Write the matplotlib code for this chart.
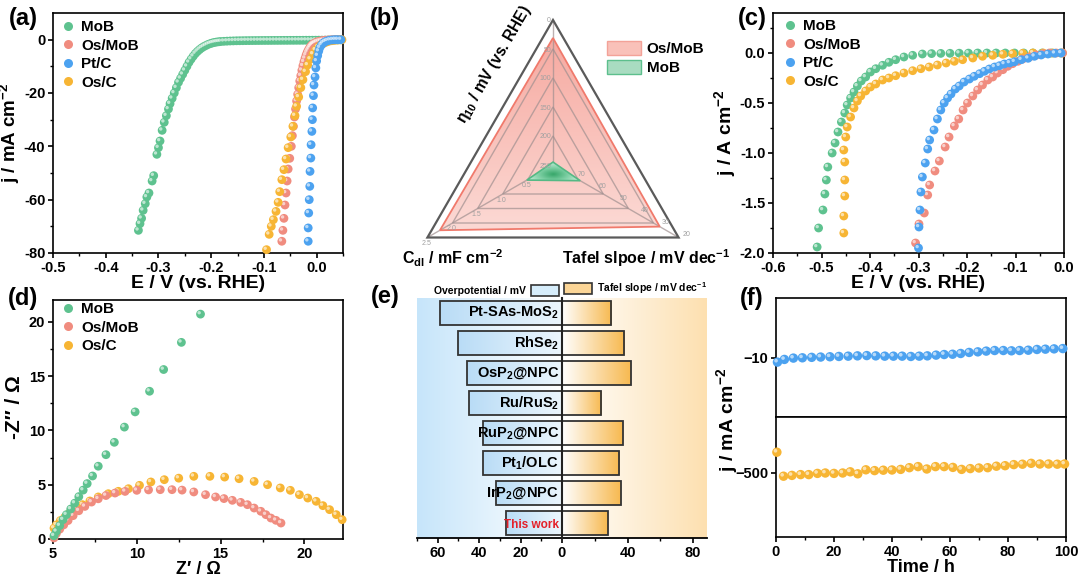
import numpy as np
import matplotlib
matplotlib.use('Agg')
import matplotlib.pyplot as plt
import matplotlib.transforms as mtransforms
from matplotlib.colors import LinearSegmentedColormap
from matplotlib.patches import Polygon, Patch
from matplotlib.lines import Line2D
from matplotlib.ticker import MultipleLocator, FixedLocator

plt.rcParams.update({
    'font.family': ['Liberation Sans', 'DejaVu Sans'],
    'font.weight': 'bold',
    'axes.labelweight': 'bold',
    'mathtext.fontset': 'custom',
    'mathtext.rm': 'Liberation Sans:bold',
    'mathtext.it': 'Liberation Sans:bold:italic',
    'mathtext.bf': 'Liberation Sans:bold',
    'axes.linewidth': 1.2,
    'xtick.major.width': 1.2, 'ytick.major.width': 1.2,
    'xtick.minor.width': 1.0, 'ytick.minor.width': 1.0,
    'xtick.major.size': 3.5, 'ytick.major.size': 3.5,
    'xtick.minor.size': 2.0, 'ytick.minor.size': 2.0,
    'xtick.direction': 'out', 'ytick.direction': 'out',
    'xtick.labelsize': 10.5, 'ytick.labelsize': 10.5,
    'axes.labelsize': 12,
    'xtick.major.pad': 2, 'ytick.major.pad': 2,
})

C_MOB = '#5ec28f'
C_OSMOB = '#f08c7f'
C_PTC = '#4ca2f0'
C_OSC = '#f7b534'

# ---------------- data (a) LSV, mA cm-2 ----------------
a_mob_E = [-0.338, -0.335, -0.332, -0.329, -0.325, -0.322, -0.318, -0.312, -0.309, -0.303,
           -0.300, -0.297, -0.293, -0.289, -0.285, -0.281, -0.278, -0.274, -0.270, -0.266,
           -0.262, -0.258, -0.254, -0.250, -0.246, -0.242, -0.238, -0.234, -0.230, -0.226,
           -0.222, -0.218, -0.214, -0.210, -0.206, -0.202, -0.198, -0.194, -0.190, -0.186,
           -0.182, -0.176, -0.170, -0.164, -0.158, -0.152, -0.146, -0.140, -0.134, -0.128,
           -0.122, -0.116, -0.110, -0.104, -0.098, -0.092, -0.086, -0.080, -0.074, -0.068,
           -0.062, -0.056, -0.050, -0.044, -0.038, -0.032, -0.026, -0.020, -0.014, -0.008,
           -0.002, 0.004, 0.010, 0.016, 0.022, 0.028, 0.034, 0.040, 0.046]
a_mob_j = [-71.5, -69, -67, -64, -61.5, -59, -57.5, -53, -51, -43,
           -40.5, -38, -34, -31, -28.5, -26, -24, -22, -20, -18,
           -16, -14.5, -13, -11.5, -10, -8.5, -7.3, -6.2, -5.2, -4.4,
           -3.7, -3.1, -2.6, -2.2, -1.8, -1.5, -1.25, -1.05, -0.9, -0.8,
           -0.7, -0.62, -0.56, -0.5, -0.46, -0.42, -0.4, -0.38, -0.36, -0.35,
           -0.34, -0.33, -0.32, -0.31, -0.3, -0.3, -0.29, -0.28, -0.28, -0.27,
           -0.26, -0.26, -0.25, -0.25, -0.24, -0.24, -0.23, -0.22, -0.22, -0.21,
           -0.2, -0.19, -0.18, -0.16, -0.14, -0.12, -0.1, -0.08, -0.05]
a_osmob_E = [-0.066, -0.064, -0.062, -0.060, -0.058, -0.056, -0.054, -0.051, -0.048, -0.046,
             -0.044, -0.042, -0.040, -0.038, -0.036, -0.034, -0.032, -0.030, -0.028, -0.026,
             -0.024, -0.022, -0.020, -0.018, -0.016, -0.014, -0.012, -0.010, -0.008, -0.006,
             -0.003, 0.000, 0.004, 0.008, 0.012, 0.017, 0.022, 0.027, 0.032, 0.037, 0.042, 0.047]
a_osmob_j = [-75.6, -71.5, -67, -62, -57.5, -53, -48.5, -44.5, -40, -36,
             -32.5, -29, -26, -23, -20.5, -18, -15.5, -13.5, -11.5, -9.8,
             -8.3, -7, -5.8, -4.8, -4, -3.3, -2.7, -2.2, -1.8, -1.5,
             -1.2, -0.9, -0.65, -0.45, -0.3, -0.2, -0.12, -0.06, -0.02, 0.0, 0.0, 0.0]
a_ptc_E = [-0.016, -0.016, -0.015, -0.014, -0.013, -0.0125, -0.011, -0.0105, -0.009, -0.008,
           -0.0075, -0.006, -0.005, -0.003, -0.0015, 0.000, 0.002, 0.004, 0.006, 0.009,
           0.012, 0.016, 0.020, 0.025, 0.030, 0.035, 0.040, 0.046]
a_ptc_j = [-75.6, -70.6, -65, -60, -55, -49.4, -44.4, -39.4, -34.4, -30,
           -25.6, -21, -17, -14, -10.6, -8, -6, -4.3, -3, -2,
           -1.3, -0.8, -0.45, -0.2, -0.08, 0.0, 0.0, 0.0]
a_osc_E = [-0.095, -0.090, -0.086, -0.082, -0.077, -0.073, -0.070, -0.066, -0.062, -0.058,
           -0.054, -0.049, -0.045, -0.041, -0.038, -0.034, -0.030, -0.026, -0.021, -0.017,
           -0.012, -0.007, -0.002, 0.003, 0.008, 0.013, 0.018, 0.023, 0.028, 0.033,
           0.038, 0.043, 0.048]
a_osc_j = [-78.75, -73, -70, -67.5, -64.4, -61, -57, -52.5, -48.75, -44.75,
           -40.5, -36.5, -32.5, -28.5, -25, -21.5, -18, -15, -12, -9.5,
           -7.3, -5.4, -3.9, -2.8, -2.0, -1.4, -0.95, -0.6, -0.4, -0.25,
           -0.15, -0.08, -0.03]

# ---------------- data (b) radar ----------------
radar_names = ['Os/MoB', 'MoB']
radar_eta10 = [31, 245]      # mV
radar_cdl = [2.25, 0.52]     # mF cm-2
radar_tafel = [29, 67]       # mV dec-1
eta_ticks = [250, 200, 150, 100, 50, 0]
cdl_ticks = ['0.5', '1.0', '1.5', '2.0', '2.5']
tafel_ticks = [70, 60, 50, 40, 30, 20]

# ---------------- data (c) LSV, A cm-2 ----------------
c_mob_E = [-0.509, -0.506, -0.497, -0.493, -0.490, -0.487, -0.478, -0.472, -0.466, -0.459,
           -0.452, -0.447, -0.440, -0.433, -0.426, -0.418, -0.409, -0.399, -0.388, -0.374,
           -0.361, -0.347, -0.330, -0.312, -0.292, -0.273, -0.254, -0.235, -0.216, -0.197,
           -0.178, -0.159, -0.140, -0.121, -0.102, -0.083, -0.064, -0.045, -0.026, -0.007]
c_mob_j = [-1.94, -1.75, -1.57, -1.41, -1.27, -1.14, -1.0, -0.90, -0.79, -0.69,
           -0.60, -0.52, -0.45, -0.39, -0.33, -0.28, -0.24, -0.19, -0.157, -0.123,
           -0.093, -0.067, -0.04, -0.023, -0.01, -0.006, -0.004, -0.003, -0.002, -0.001,
           0.0, 0.0, 0.0, 0.0, 0.0, 0.0, 0.0, 0.0, 0.0, 0.0]
c_osmob_E = [-0.306, -0.299, -0.288, -0.281, -0.277, -0.266, -0.257, -0.245, -0.237, -0.226,
             -0.217, -0.208, -0.199, -0.188, -0.178, -0.168, -0.157, -0.147, -0.137, -0.126,
             -0.116, -0.106, -0.095, -0.085, -0.071, -0.057, -0.043, -0.030, -0.016, -0.003]
c_osmob_j = [-1.90, -1.71, -1.60, -1.42, -1.32, -1.18, -1.08, -0.94, -0.84, -0.73,
             -0.66, -0.57, -0.50, -0.43, -0.37, -0.32, -0.27, -0.24, -0.20, -0.167,
             -0.133, -0.107, -0.083, -0.06, -0.04, -0.02, -0.007, 0.0, 0.0, 0.0]
c_ptc_E = [-0.300, -0.299, -0.297, -0.295, -0.292, -0.286, -0.281, -0.277, -0.268, -0.261,
           -0.254, -0.247, -0.240, -0.233, -0.224, -0.216, -0.206, -0.195, -0.185, -0.174,
           -0.164, -0.154, -0.143, -0.133, -0.123, -0.112, -0.102, -0.088, -0.074, -0.061,
           -0.047, -0.033, -0.019, -0.006]
c_ptc_j = [-1.95, -1.74, -1.57, -1.39, -1.24, -1.10, -0.96, -0.87, -0.77, -0.66,
           -0.57, -0.50, -0.45, -0.41, -0.36, -0.33, -0.29, -0.26, -0.233, -0.207,
           -0.183, -0.16, -0.14, -0.127, -0.11, -0.10, -0.087, -0.067, -0.053, -0.033,
           -0.02, -0.01, -0.003, 0.0]
c_osc_E = [-0.454, -0.454, -0.452, -0.452, -0.452, -0.454, -0.450, -0.447, -0.440, -0.433,
           -0.426, -0.419, -0.409, -0.399, -0.388, -0.374, -0.361, -0.347, -0.330, -0.312,
           -0.295, -0.278, -0.261, -0.243, -0.226, -0.209, -0.188, -0.168, -0.147, -0.126,
           -0.106, -0.085, -0.064, -0.043, -0.023, -0.003]
c_osc_j = [-1.80, -1.63, -1.43, -1.27, -1.09, -0.97, -0.84, -0.74, -0.64, -0.55,
           -0.48, -0.43, -0.38, -0.34, -0.31, -0.27, -0.25, -0.227, -0.20, -0.177,
           -0.157, -0.14, -0.12, -0.10, -0.083, -0.067, -0.05, -0.033, -0.023, -0.013,
           -0.007, -0.003, 0.0, 0.0, 0.0, 0.0]

# ---------------- data (d) Nyquist ----------------
d_mob_re = [5.06, 5.2, 5.4, 5.6, 5.8, 6.06, 6.3, 6.54, 6.8, 7.04, 7.36, 7.7, 8.16, 8.66,
            9.26, 9.9, 10.76, 11.6, 12.66, 13.8]
d_mob_im = [0.3, 0.7, 1.23, 1.78, 2.24, 2.76, 3.3, 3.9, 4.5, 5.1, 5.8, 6.7, 7.76, 8.9,
            10.3, 11.7, 13.6, 15.6, 18.1, 20.7]
d_osmob_re = [5.06, 5.2, 5.4, 5.64, 5.9, 6.2, 6.54, 6.9, 7.3, 7.7, 8.16, 8.7, 9.3, 10.0,
              10.7, 11.4, 12.1, 12.7, 13.4, 14.1, 14.7, 15.2, 15.7, 16.2, 16.6, 17.0,
              17.4, 17.7, 18.0, 18.3, 18.6]
d_osmob_im = [0.1, 0.5, 0.9, 1.3, 1.7, 2.15, 2.6, 3.0, 3.4, 3.7, 4.0, 4.23, 4.38, 4.48,
              4.52, 4.54, 4.54, 4.5, 4.33, 4.08, 3.87, 3.72, 3.56, 3.37, 3.16, 2.85,
              2.55, 2.24, 1.93, 1.72, 1.47]
d_osc_re = [5.06, 5.2, 5.44, 5.7, 6.0, 6.36, 6.76, 7.2, 7.7, 8.3, 8.9, 9.5, 10.16, 10.84,
            11.64, 12.5, 13.4, 14.36, 15.24, 16.1, 17.0, 17.8, 18.56, 19.16, 19.7, 20.2,
            20.7, 21.1, 21.5, 21.9, 22.25]
d_osc_im = [1.0, 1.3, 1.7, 2.0, 2.4, 2.76, 3.16, 3.5, 3.87, 4.17, 4.39, 4.63, 4.94, 5.25,
            5.46, 5.6, 5.77, 5.77, 5.7, 5.55, 5.3, 5.0, 4.7, 4.48, 4.08, 3.77,
            3.47, 3.07, 2.7, 2.24, 1.78]

# ---------------- data (e) comparison ----------------
e_names = ['Pt-SAs-MoS$_2$', 'RhSe$_2$', 'OsP$_2$@NPC', 'Ru/RuS$_2$', 'RuP$_2$@NPC',
           'Pt$_1$/OLC', 'IrP$_2$@NPC', 'This work']
e_overpot = [59, 50, 46, 45, 38, 38, 32, 27]
e_tafel = [30, 38, 42, 24, 37, 35, 36, 28]

# ---------------- data (f) stability ----------------
f_blue_t = [0.5, 2.9, 6.0, 9.1, 12.3, 15.4, 18.6, 21.7, 24.9, 28.1, 31.3, 34.4, 37.5, 40.5,
            43.5, 46.5, 49.4, 52.2, 55.2, 58.0, 60.9, 63.7, 66.6, 69.6, 72.5, 75.4, 78.4,
            81.2, 84.0, 87.0, 90.0, 92.9, 95.9, 98.9]
f_blue_j = [-10.31, -10.13, -10.04, -10.02, -9.99, -9.97, -9.95, -9.93, -9.91, -9.89, -9.87,
            -9.89, -9.91, -9.91, -9.91, -9.93, -9.91, -9.89, -9.84, -9.80, -9.78, -9.73,
            -9.66, -9.62, -9.57, -9.53, -9.53, -9.55, -9.53, -9.51, -9.46, -9.44, -9.42, -9.40]
f_yel_t = [0.3, 2.6, 5.5, 8.5, 11.3, 14.3, 17.0, 20.0, 23.0, 25.6, 28.2, 31, 34, 37, 40, 43,
           46, 49, 52, 55, 58, 61, 64, 67, 70, 73, 76, 79, 82, 85, 88, 91, 94, 97, 99.5]
f_yel_j = [-448, -508, -506, -504, -504, -501, -500, -501, -500, -497, -502, -492, -494,
           -493, -492.5, -491, -486.7, -484, -490, -484, -484, -486, -491, -489, -487.5,
           -486.7, -483, -481.7, -479, -478, -475.8, -477.5, -477.5, -478, -477.5]

# ---------------- figure ----------------
W, H = 1080, 578
fig = plt.figure(figsize=(W / 100, H / 100), dpi=100)


def rect(l, t, r, b):
    return [l / W, 1 - b / H, (r - l) / W, (b - t) / H]


def balls(ax, x, y, c, s=40, z=3):
    ax.scatter(x, y, s=s, c=c, edgecolors='none', zorder=z, clip_on=False)
    tr = mtransforms.offset_copy(ax.transData, fig=fig, x=-1.0, y=1.0, units='points')
    ax.scatter(x, y, s=s * 0.15, c='white', alpha=0.6, edgecolors='none', zorder=z,
               transform=tr, clip_on=False)


def ball_legend(ax, names, colors, left_px, top_px):
    hs = [Line2D([], [], ls='none', marker='o', ms=6.5, mfc=c, mec='none') for c in colors]
    ax.legend(hs, names, loc='upper left', bbox_to_anchor=(left_px / W, 1 - top_px / H),
              bbox_transform=fig.transFigure, frameon=False, fontsize=11,
              handlelength=0.75, handletextpad=0.5, labelspacing=0.3,
              borderpad=0, borderaxespad=0)


def style_box(ax):
    ax.tick_params(which='both', top=False, right=False)
    for sp in ax.spines.values():
        sp.set_linewidth(1.2)


def fmt1(v, p):
    return f'{v:.1f}'.replace('-0.0', '0.0')


# ---- (a) ----
axa = fig.add_axes(rect(53, 13, 343, 253))
balls(axa, a_mob_E, a_mob_j, C_MOB)
balls(axa, a_osmob_E, a_osmob_j, C_OSMOB)
balls(axa, a_osc_E, a_osc_j, C_OSC)
balls(axa, a_ptc_E, a_ptc_j, C_PTC)
axa.set_xlim(-0.5, 0.05)
axa.set_ylim(-80, 10)
axa.xaxis.set_major_locator(MultipleLocator(0.1))
axa.xaxis.set_minor_locator(MultipleLocator(0.05))
axa.set_yticks([-80, -60, -40, -20, 0])
axa.yaxis.set_minor_locator(FixedLocator([-70, -50, -30, -10]))
axa.xaxis.set_major_formatter(plt.FuncFormatter(fmt1))
axa.yaxis.set_major_formatter(plt.FuncFormatter(lambda v, p: f'{v:.0f}'))
axa.set_xlabel('E / V (vs. RHE)', labelpad=0, fontsize=14)
axa.set_ylabel('j / mA cm$^{-2}$', fontsize=13.5)
axa.yaxis.set_label_coords((22 - 53) / 290, 0.5)
style_box(axa)
ball_legend(axa, ['MoB', 'Os/MoB', 'Pt/C', 'Os/C'], [C_MOB, C_OSMOB, C_PTC, C_OSC], 62, 20)

# ---- (b) radar ----
axb = fig.add_axes(rect(400, 0, 720, 290))
axb.set_xlim(0, 320)
axb.set_ylim(290, 0)
axb.axis('off')
cx, cy, R = 153.0, 165.0, 145.0
ang = np.deg2rad([90, 210, 330])


def fr_eta(v):
    return (250 - v) / 250


def fr_cdl(v):
    return v / 2.5


def fr_taf(v):
    return (80 - v) / 60


def tri(fr):
    return np.array([(cx + R * f * np.cos(a), cy - R * f * np.sin(a)) for f, a in zip(fr, ang)])


# Os/MoB polygon with gradient
os_pts = tri([fr_eta(radar_eta10[0]), fr_cdl(radar_cdl[0]), fr_taf(radar_tafel[0])])
axb.add_patch(Polygon(os_pts, closed=True, fc='none', ec='#f07a6c', lw=1.3, zorder=4))
cm_os = LinearSegmentedColormap.from_list('os', ['#f6a59c', '#fcdcd7'])
grad_v = np.linspace(0, 1, 256).reshape(-1, 1)
im = axb.imshow(grad_v, cmap=cm_os, extent=[0, 320, 240, 20], aspect='auto', zorder=1,
                interpolation='bilinear')
im.set_clip_path(Polygon(os_pts, closed=True, transform=axb.transData))

# grid rings and spokes
for f in [0.2, 0.4, 0.6, 0.8]:
    axb.add_patch(Polygon(tri([f] * 3), closed=True, fill=False, ec='#a09090', lw=1.0,
                          alpha=0.7, zorder=2))
axb.add_patch(Polygon(tri([1.0] * 3), closed=True, fill=False, ec='#5a5a5a', lw=1.6, zorder=3))
for a in ang:
    axb.plot([cx, cx + R * np.cos(a)], [cy, cy - R * np.sin(a)], color='#a09090', lw=1.0,
             alpha=0.7, zorder=2)

# MoB polygon with gradient
mob_pts = tri([fr_eta(radar_eta10[1]), fr_cdl(radar_cdl[1]), fr_taf(radar_tafel[1])])
cm_mob = LinearSegmentedColormap.from_list('mob', ['#3aa86c', '#7ccfa3', '#c4ead6'])
mc = mob_pts.mean(axis=0)
gx, gy = np.meshgrid(np.linspace(0, 320, 321), np.linspace(0, 290, 291))
rr = np.hypot((gx - mc[0]) / 28.0, (gy - mc[1]) / 12.0)
im2 = axb.imshow(np.clip(rr, 0, 1), cmap=cm_mob, extent=[0, 320, 290, 0], aspect='auto',
                 zorder=5, interpolation='bilinear')
im2.set_clip_path(Polygon(mob_pts, closed=True, transform=axb.transData))
axb.add_patch(Polygon(mob_pts, closed=True, fc='none', ec='#55b985', lw=1.2, zorder=6))

# radar tick labels
tk = dict(fontsize=5, color='#a0a0a0', fontweight='normal', zorder=7)
for v in eta_ticks:
    p = tri([fr_eta(v), 0, 0])[0]
    axb.text(p[0] - 2, p[1] + 1, str(v), ha='right', va='center', **tk)
for s in cdl_ticks:
    p = tri([0, fr_cdl(float(s)), 0])[1]
    axb.text(p[0] - 1, p[1] + 2.5, s, ha='center', va='top', **tk)
for v in tafel_ticks:
    p = tri([0, 0, fr_taf(v)])[2]
    axb.text(p[0] + 4, p[1] - 3, str(v), ha='left', va='center', **tk)

axb.text(94, 64, 'η$_{10}$ / mV (vs. RHE)', rotation=60, ha='center', va='center',
         fontsize=11.2, rotation_mode='anchor')
axb.text(53, 258, 'C$_{\\mathrm{dl}}$ / mF cm$^{-2}$', ha='center', va='center', fontsize=11.5)
axb.text(246, 258, 'Tafel slpoe / mV dec$^{-1}$', ha='center', va='center', fontsize=11.5,
         clip_on=False)
axb.legend([Patch(fc='#f9c1b9', ec='#f3a298', lw=1.0), Patch(fc='#a9dcc1', ec='#5dbf8d', lw=1.0)],
           radar_names, loc='upper left', bbox_to_anchor=(607 / W, 1 - 41 / H),
           bbox_transform=fig.transFigure, frameon=False, fontsize=11, handlelength=2.2,
           handleheight=1.0, handletextpad=0.4, labelspacing=0.25, borderpad=0, borderaxespad=0)

# ---- (c) ----
axc = fig.add_axes(rect(773, 13, 1064, 253))
balls(axc, c_mob_E, c_mob_j, C_MOB)
balls(axc, c_osc_E, c_osc_j, C_OSC)
balls(axc, c_osmob_E, c_osmob_j, C_OSMOB)
balls(axc, c_ptc_E, c_ptc_j, C_PTC)
axc.set_xlim(-0.6, 0.0)
axc.set_ylim(-2.0, 0.4)
axc.xaxis.set_major_locator(MultipleLocator(0.1))
axc.xaxis.set_minor_locator(MultipleLocator(0.05))
axc.set_yticks([-2.0, -1.5, -1.0, -0.5, 0.0])
axc.yaxis.set_minor_locator(FixedLocator([-1.75, -1.25, -0.75, -0.25, 0.25]))
axc.xaxis.set_major_formatter(plt.FuncFormatter(fmt1))
axc.yaxis.set_major_formatter(plt.FuncFormatter(fmt1))
axc.set_xlabel('E / V (vs. RHE)', labelpad=0, fontsize=14)
axc.set_ylabel('j / A cm$^{-2}$', labelpad=1, fontsize=14)
style_box(axc)
ball_legend(axc, ['MoB', 'Os/MoB', 'Pt/C', 'Os/C'], [C_MOB, C_OSMOB, C_PTC, C_OSC], 784, 19)

# ---- (d) ----
axd = fig.add_axes(rect(53, 300, 343, 539))
balls(axd, d_osc_re, d_osc_im, C_OSC)
balls(axd, d_osmob_re, d_osmob_im, C_OSMOB)
balls(axd, d_mob_re, d_mob_im, C_MOB)
axd.set_xlim(5, 22.3)
axd.set_ylim(0, 22)
axd.set_xticks([5, 10, 15, 20])
axd.xaxis.set_minor_locator(FixedLocator([7.5, 12.5, 17.5]))
axd.set_yticks([0, 5, 10, 15, 20])
axd.yaxis.set_minor_locator(FixedLocator([2.5, 7.5, 12.5, 17.5]))
axd.set_xlabel('Z\u2032 / Ω', labelpad=0, fontsize=13)
axd.set_ylabel('-Z\u2033 / Ω', fontsize=15)
axd.yaxis.set_label_coords((24 - 53) / 290, 0.55)
style_box(axd)
ball_legend(axd, ['MoB', 'Os/MoB', 'Os/C'], [C_MOB, C_OSMOB, C_OSC], 62, 302)

# ---- (e) ----
axel = fig.add_axes(rect(417, 298, 562, 538))
axer = fig.add_axes(rect(562, 298, 707, 538))
ypos = np.arange(len(e_names))
bh = 0.78
cm_bg_l = LinearSegmentedColormap.from_list('bgl', ['#ffffff', '#c6e5fa'])
cm_bg_r = LinearSegmentedColormap.from_list('bgr', ['#ffffff', '#fde0b0'])
grad_h = np.linspace(0, 1, 256).reshape(1, -1)
axel.imshow(grad_h[:, ::-1], cmap=cm_bg_l, extent=[0, 1, 0, 1], transform=axel.transAxes,
            aspect='auto', zorder=0, interpolation='bilinear')
axer.imshow(grad_h, cmap=cm_bg_r, extent=[0, 1, 0, 1], transform=axer.transAxes,
            aspect='auto', zorder=0, interpolation='bilinear')
cm_bar_l = LinearSegmentedColormap.from_list('barl', ['#ecf6fd', '#b9dcf6'])
cm_bar_r = LinearSegmentedColormap.from_list('barr', ['#ffffff', '#f7b950'])
barsl = axel.barh(ypos, e_overpot, height=bh, color='none', edgecolor='#333333', lw=1.3, zorder=3)
barsr = axer.barh(ypos, e_tafel, height=bh, color='none', edgecolor='#333333', lw=1.3, zorder=3)
for b in barsl:
    x0, y0, w, h = b.get_x(), b.get_y(), b.get_width(), b.get_height()
    g = axel.imshow(grad_h, cmap=cm_bar_l, extent=[x0, x0 + w, y0, y0 + h], aspect='auto',
                    zorder=2, interpolation='bilinear')
    g.set_clip_path(b)
for b in barsr:
    x0, y0, w, h = b.get_x(), b.get_y(), b.get_width(), b.get_height()
    g = axer.imshow(grad_h, cmap=cm_bar_r, extent=[x0, x0 + w, y0, y0 + h], aspect='auto',
                    zorder=2, interpolation='bilinear')
    g.set_clip_path(b)
for i, nm in enumerate(e_names):
    if nm == 'This work':
        axel.text(1.5, ypos[i] + 0.05, nm, ha='right', va='center', fontsize=8.5,
                  color='#e4202a', zorder=5)
    else:
        axel.text(1.5, ypos[i], nm, ha='right', va='center', fontsize=10.5, zorder=5)
axel.set_xlim(70, 0)
axer.set_xlim(0, 88.5)
for ax in (axel, axer):
    ax.set_ylim(len(e_names) - 0.5, -0.5)
    ax.set_yticks([])
    for s in ('left', 'right', 'top'):
        ax.spines[s].set_visible(False)
    ax.spines['bottom'].set_linewidth(1.3)
    ax.set_facecolor('none')
axel.set_xticks([60, 40, 20, 0])
axel.xaxis.set_minor_locator(FixedLocator([70, 50, 30, 10]))
axer.set_xticks([40, 80])
axer.xaxis.set_minor_locator(FixedLocator([20, 60]))
axer.axvline(0, color='#222222', lw=1.5, zorder=6, clip_on=False)
axel.legend([Patch(fc='#d6edfb', ec='#333333', lw=1.2)], ['Overpotential / mV'],
            loc='lower right', bbox_to_anchor=(559 / W, 1 - 296 / H), bbox_transform=fig.transFigure,
            markerfirst=False, frameon=False, fontsize=7.5, handlelength=2.7, handleheight=1.25,
            handletextpad=0.5, borderpad=0, borderaxespad=0)
axer.legend([Patch(fc='#fbd596', ec='#333333', lw=1.2)], ['Tafel slope / mV dec$^{-1}$'],
            loc='lower left', bbox_to_anchor=(564 / W, 1 - 296 / H), bbox_transform=fig.transFigure,
            frameon=False, fontsize=7.5, handlelength=2.7, handleheight=1.25,
            handletextpad=0.5, borderpad=0, borderaxespad=0)

# ---- (f) ----
axfu = fig.add_axes(rect(776, 298, 1066, 417))
axfl = fig.add_axes(rect(776, 417, 1066, 537))
balls(axfu, f_blue_t, f_blue_j, C_PTC, s=46)
balls(axfl, f_yel_t, f_yel_j, C_OSC, s=46)
for ax in (axfu, axfl):
    ax.set_xlim(0, 100)
    style_box(ax)
axfu.set_ylim(-14, -6)
axfu.set_yticks([-10])
axfu.tick_params(axis='x', which='both', bottom=False, labelbottom=False)
axfl.set_ylim(-660, -360)
axfl.set_yticks([-500])
axfl.xaxis.set_major_locator(MultipleLocator(20))
axfl.xaxis.set_minor_locator(MultipleLocator(10))
axfl.set_xlabel('Time / h', labelpad=0, fontsize=13)
fig.text(727 / W, 1 - 420 / H, 'j / mA cm$^{-2}$', rotation=90, ha='center', va='center',
         fontsize=14)

# panel labels
for lab, x, y in [('(a)', 23, 18), ('(b)', 385, 18), ('(c)', 752, 18),
                  ('(d)', 23, 298), ('(e)', 385, 296), ('(f)', 752, 298)]:
    fig.text(x / W, 1 - y / H, lab, ha='center', va='center', fontsize=17)

fig.savefig('out.png', dpi=100)
